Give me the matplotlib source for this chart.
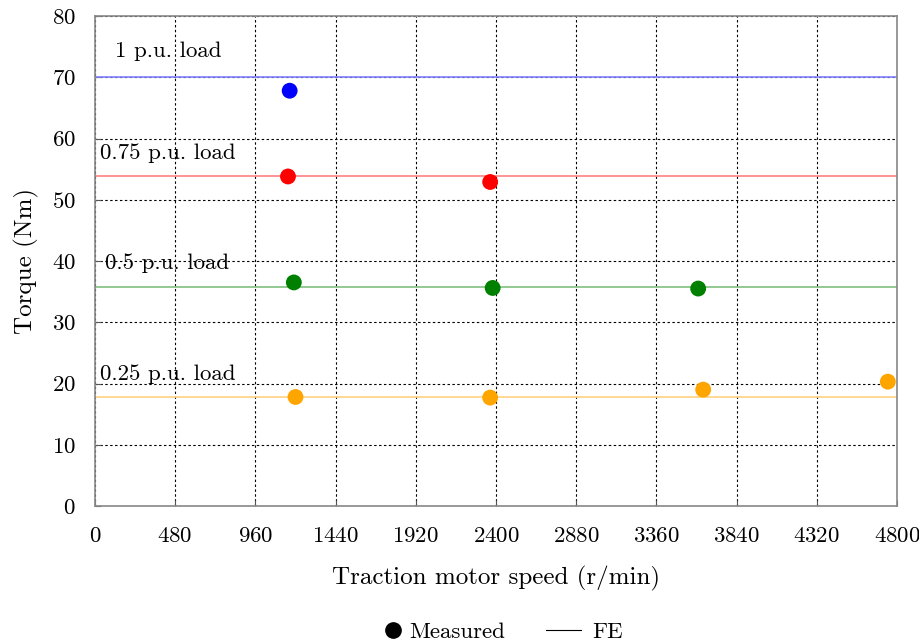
import matplotlib
matplotlib.use("Agg")
import matplotlib.pyplot as plt
from matplotlib.lines import Line2D
from matplotlib.legend_handler import HandlerLine2D

plt.rcParams["font.family"] = ["cmr10", "DejaVu Serif"]
plt.rcParams["mathtext.fontset"] = "cm"
plt.rcParams["axes.formatter.use_mathtext"] = True

# =========================
# DATA
# =========================
loads = ["1 p.u. load", "0.75 p.u. load", "0.5 p.u. load", "0.25 p.u. load"]
fe_torque = [70.0, 53.8, 35.8, 17.8]

meas_speed = [
    [1165],
    [1155, 2365],
    [1190, 2380, 3610],
    [1200, 2365, 3640, 4745],
]
meas_torque = [
    [67.8],
    [53.8, 52.9],
    [36.5, 35.6, 35.5],
    [17.8, 17.7, 19.0, 20.3],
]

marker_colors = ["#0000ff", "#ff0000", "#008000", "#ffa500"]
line_colors = ["#8080ff", "#ff8080", "#80c080", "#ffd280"]
label_pos = [(120, 72.7), (30, 56.0), (60, 38.0), (30, 20.0)]

x_ticks = [0, 480, 960, 1440, 1920, 2400, 2880, 3360, 3840, 4320, 4800]
y_ticks = [0, 10, 20, 30, 40, 50, 60, 70, 80]


class RightMarkerHandler(HandlerLine2D):
    # single marker sits near the text (the middle of the returned span)
    def get_xdata(self, legend, xdescent, ydescent, width, height, fontsize):
        xdata = [-xdescent + width - 7, -xdescent + width]
        return xdata, [xdata[0] + 3.5]


# =========================
# PLOT
# =========================
fig = plt.figure(figsize=(9.2, 6.44), dpi=100)
ax = fig.add_axes([95 / 920, 138 / 644, 802 / 920, 490 / 644])

for i in range(len(loads)):
    ax.axhline(fe_torque[i], color=line_colors[i], lw=1.2, zorder=2)
    ax.scatter(meas_speed[i], meas_torque[i], s=130, color=marker_colors[i],
               zorder=3, edgecolors="none")
    ax.text(label_pos[i][0], label_pos[i][1], loads[i], fontsize=16.5,
            ha="left", va="bottom", zorder=4)

ax.set_xlim(0, 4800)
ax.set_ylim(0, 80)
ax.set_xticks(x_ticks)
ax.set_yticks(y_ticks)
ax.tick_params(axis="x", direction="in", length=4, labelsize=16.5, pad=15,
               color="#555555")
ax.tick_params(axis="y", direction="in", length=4, labelsize=16.5, pad=14,
               color="#555555")
ax.grid(True, color="black", linestyle=(0, (2.2, 2.2)), linewidth=0.8)
for sp in ax.spines.values():
    sp.set_color("#888888")
    sp.set_linewidth(1.2)

ax.set_xlabel("Traction motor speed (r/min)", fontsize=18, labelpad=14)
ax.set_ylabel("Torque (Nm)", fontsize=18, labelpad=9)

meas_handle = Line2D([], [], marker="o", color="black", linestyle="none",
                     markersize=11)
fe_handle = Line2D([], [], color="black", lw=0.8)
fig.legend([meas_handle, fe_handle], ["Measured", "FE"], loc="center", ncol=2,
           bbox_to_anchor=(493 / 920, 12 / 644), frameon=False, fontsize=16.5,
           handlelength=1.5, columnspacing=1.8, handletextpad=0.5,
           handler_map={meas_handle: RightMarkerHandler()})

fig.savefig("out.png", dpi=100)
